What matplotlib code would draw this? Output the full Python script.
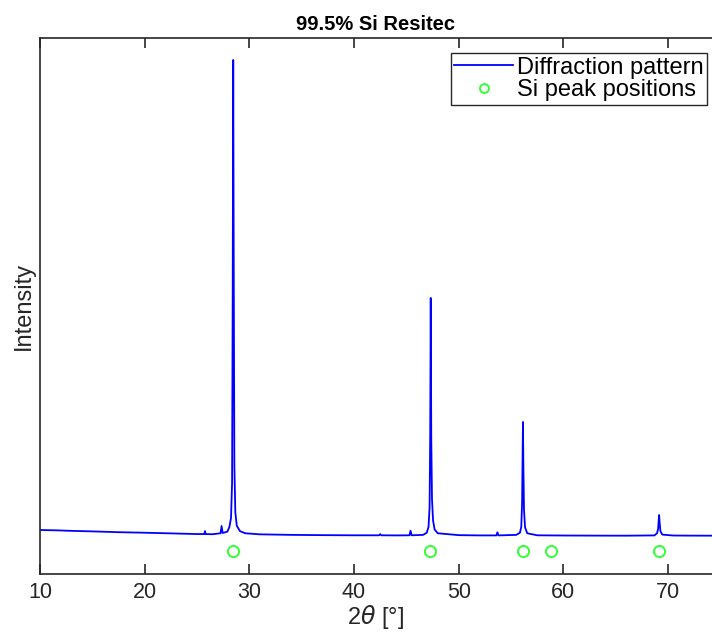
import numpy as np
import matplotlib.pyplot as plt

plt.rcParams['font.family'] = ['Liberation Sans', 'DejaVu Sans']

# diffraction pattern (2theta in degrees, counts)
two_theta = [10.0, 11.5, 13.0, 15.0, 17.5, 20.0, 22.5, 25.0, 25.7, 25.76, 25.82, 26.5,
             27.25, 27.35, 27.45, 27.9, 28.1, 28.25, 28.35, 28.41, 28.46, 28.51, 28.57,
             28.66, 28.8, 29.1, 29.6, 31.0, 34.0, 37.0, 40.0, 42.4, 42.5, 42.6, 44.0,
             45.3, 45.4, 45.5, 46.6, 46.95, 47.12, 47.22, 47.28, 47.33, 47.38, 47.45,
             47.55, 47.7, 48.0, 50.0, 52.0, 53.6, 53.7, 53.8, 55.5, 55.85, 55.98, 56.06,
             56.1, 56.14, 56.18, 56.24, 56.34, 56.55, 57.5, 60.0, 63.0, 66.0, 68.7,
             68.95, 69.05, 69.1, 69.15, 69.2, 69.27, 69.45, 70.5, 72.0, 74.2]
intensity = [821, 815, 805, 795, 780, 770, 758, 745, 745, 800, 745, 742,
             760, 896, 765, 790, 880, 1050, 1700, 5200, 9590, 5600, 2000,
             1150, 900, 800, 760, 740, 730, 725, 722, 722, 745, 722, 720,
             722, 808, 722, 730, 770, 880, 1250, 2600, 5150, 2500, 1400,
             1000, 830, 760, 725, 720, 720, 778, 720, 730, 770, 880, 1350,
             2100, 2836, 2000, 1200, 870, 760, 722, 718, 716, 715, 720,
             760, 840, 980, 1100, 950, 800, 735, 718, 716, 715]

# Si reference peak positions
si_peaks = [28.44, 47.30, 56.12, 58.85, 69.13]
marker_level = [435] * len(si_peaks)

fig = plt.figure(figsize=(7.12, 6.34), dpi=100)
ax = fig.add_axes([40/712, 60/634, 672/712, 536/634])

ax.plot(two_theta, intensity, color=(0, 0, 1), lw=1.3, label='Diffraction pattern')
ax.plot(si_peaks, marker_level, 'o', mfc='none', mec=(0.2, 1, 0.2), mew=1.4,
        ms=8, label='Si peak positions')

ax.set_xlim(10, 74.2)
ax.set_ylim(0, 10000)
ax.set_xticks(range(10, 80, 10))
ax.set_yticks([])
ax.spines['right'].set_visible(False)
for s in ax.spines.values():
    s.set_color((0.15, 0.15, 0.15))
    s.set_linewidth(1.2)
ax.tick_params(axis='x', direction='in', length=7, width=1.2, top=True,
               labelsize=15.5, colors=(0.15, 0.15, 0.15), pad=6)

ax.set_title('99.5% Si Resitec', fontsize=14.5, fontweight='bold', pad=6)
ax.set_xlabel(r'2$\theta$ [°]', fontsize=17, labelpad=0, color=(0.15, 0.15, 0.15))
ax.set_ylabel('Intensity', fontsize=17, labelpad=4, color=(0.15, 0.15, 0.15))

leg = ax.legend(loc='upper right', bbox_to_anchor=(0.9926, 0.972), fontsize=17,
                fancybox=False, framealpha=1, edgecolor=(0.15, 0.15, 0.15),
                handlelength=2.5, handletextpad=0.15, borderpad=0.15,
                labelspacing=0.02, borderaxespad=0, markerscale=0.8)
leg.get_frame().set_linewidth(1.0)

fig.savefig('out.png', dpi=100)
